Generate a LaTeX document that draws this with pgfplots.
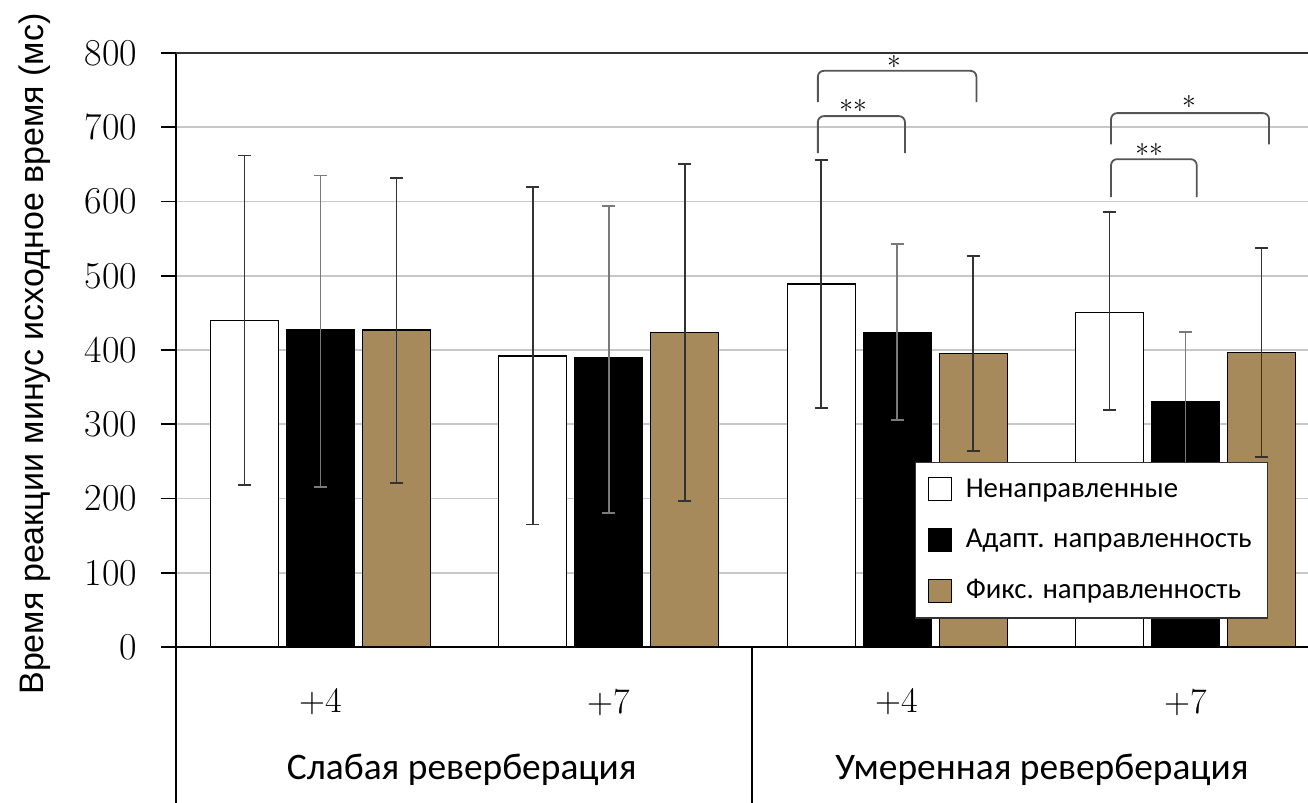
\documentclass[border=0pt]{standalone}
\usepackage{pgfplots}
\usepackage{pgfplotstable}
\pgfplotsset{compat=1.18}
\usepackage{fontspec}
\newfontfamily\carlito{Carlito}
\newfontfamily\arialfont{Liberation Sans}
\definecolor{tanbar}{HTML}{A68A5B}
\definecolor{gridgray}{HTML}{C8C8C8}
\definecolor{brk}{HTML}{555555}
\definecolor{errdark}{HTML}{333333}
\definecolor{errlight}{HTML}{7A7A7A}

% x: group centre 1..4, bars offset by 0.2636
\pgfplotstableread{
x      y   ep  em
0.7364 440 222 222
1.7364 392 227 227
2.7364 489 167 167
3.7364 451 135 132
}\undir
\pgfplotstableread{
x      y   ep  em
1      427 208 212
2      390 204 210
3      424 119 118
4      330  94  94
}\adapt
\pgfplotstableread{
x      y   ep  em
1.2636 427 205 206
2.2636 424 226 227
3.2636 395 132 131
4.2636 397 140 141
}\fixed

\begin{document}
\begin{tikzpicture}
\useasboundingbox (-88pt,-78pt) rectangle (566pt,323.5pt);
\begin{axis}[
    at={(0pt,0pt)}, anchor=south west,
    scale only axis, width=566pt, height=297pt,
    xmin=0.4988, xmax=4.425, ymin=0, ymax=800,
    clip=false,
    axis y line*=left, axis x line*=bottom,
    axis line style={black, line width=0.8pt},
    ytick={0,100,...,800},
    xtick={1,2,3,4},
    xticklabels={+4,+7,+4,+7},
    xtick style={draw=none},
    ytick style={black, line width=0.8pt},
    tick align=outside,
    major tick length=7.5pt,
    ymajorgrids,
    grid style={gridgray, line width=0.8pt},
    /pgf/number format/assume math mode=true,
    yticklabel style={font=\fontsize{19}{20}\selectfont, xshift=-8.5pt},
    xticklabel style={font=\fontsize{18}{20}\selectfont, anchor=center, yshift=-20pt},
    ylabel={\arialfont Время реакции минус исходное время (мс)},
    every axis y label/.style={at={(rel axis cs:-0.1246,0.4933)}, rotate=90, anchor=center,
        font=\fontsize{17}{18}\selectfont},
    ybar, bar width=0.2359, bar shift=0pt,
    legend style={at={(rel axis cs:0.6528,0.3114)}, anchor=north west,
        draw=black!80, line width=0.6pt, fill=white,
        font=\carlito\fontsize{14.4}{16}\selectfont,
        inner xsep=6pt, inner ysep=6pt, row sep=10.5pt,
        /tikz/every odd column/.append style={column sep=5pt}},
    legend cell align=left,
    legend image code/.code={\draw[#1, line width=0.6pt] (9pt,-5.75pt) rectangle (20.5pt,5.75pt);},
]
\addplot[fill=white, draw=black, line width=0.6pt,
    error bars/.cd, y dir=both, y explicit,
    error bar style={errdark, line width=0.75pt},
    error mark options={errdark, rotate=90, mark size=3.25pt, line width=0.9pt}]
    table[x=x, y=y, y error plus=ep, y error minus=em] {\undir};
\addlegendentry{Ненаправленные}
\addplot[fill=black, draw=black, line width=0.6pt,
    error bars/.cd, y dir=both, y explicit,
    error bar style={errlight, line width=0.75pt},
    error mark options={errlight, rotate=90, mark size=3.25pt, line width=0.9pt}]
    table[x=x, y=y, y error plus=ep, y error minus=em] {\adapt};
\addlegendentry{Адапт. направленность}
\addplot[fill=tanbar, draw=black, line width=0.6pt,
    error bars/.cd, y dir=both, y explicit,
    error bar style={errdark, line width=0.75pt},
    error mark options={errdark, rotate=90, mark size=3.25pt, line width=0.9pt}]
    table[x=x, y=y, y error plus=ep, y error minus=em] {\fixed};
\addlegendentry{Фикс. направленность}

% top rule, extended left axis and group separator
\draw[black!80, line width=1pt] (rel axis cs:0,1) -- (rel axis cs:1,1);
\draw[black, line width=0.8pt] (axis cs:0.4988,0) -- (axis cs:0.4988,-210);
\draw[black, line width=0.8pt] (axis cs:2.497,0) -- (axis cs:2.497,-210);

% group labels
\node[font=\carlito\fontsize{18.7}{22}\selectfont] at (axis cs:1.49,-166) {Слабая реверберация};
\node[font=\carlito\fontsize{18.7}{22}\selectfont] at (axis cs:3.5026,-166) {Умеренная реверберация};

% significance brackets
\draw[brk, line width=0.9pt, rounded corners=3pt]
    (axis cs:2.725,734) -- (axis cs:2.725,776) -- (axis cs:3.275,776) -- (axis cs:3.275,734);
\draw[brk, line width=0.9pt, rounded corners=3pt]
    (axis cs:2.725,665) -- (axis cs:2.725,715) -- (axis cs:3.027,715) -- (axis cs:3.027,665);
\draw[brk, line width=0.9pt, rounded corners=3pt]
    (axis cs:3.742,677) -- (axis cs:3.742,719) -- (axis cs:4.290,719) -- (axis cs:4.290,677);
\draw[brk, line width=0.9pt, rounded corners=3pt]
    (axis cs:3.742,606) -- (axis cs:3.742,657) -- (axis cs:4.039,657) -- (axis cs:4.039,606);
\node[font=\fontsize{14}{14}\selectfont, yshift=-2pt] at (axis cs:2.989,788) {*};
\node[font=\fontsize{14}{14}\selectfont, yshift=-2pt] at (axis cs:2.847,728) {**};
\node[font=\fontsize{14}{14}\selectfont, yshift=-2pt] at (axis cs:4.012,734) {*};
\node[font=\fontsize{14}{14}\selectfont, yshift=-2pt] at (axis cs:3.874,669) {**};
\end{axis}
\end{tikzpicture}
\end{document}
